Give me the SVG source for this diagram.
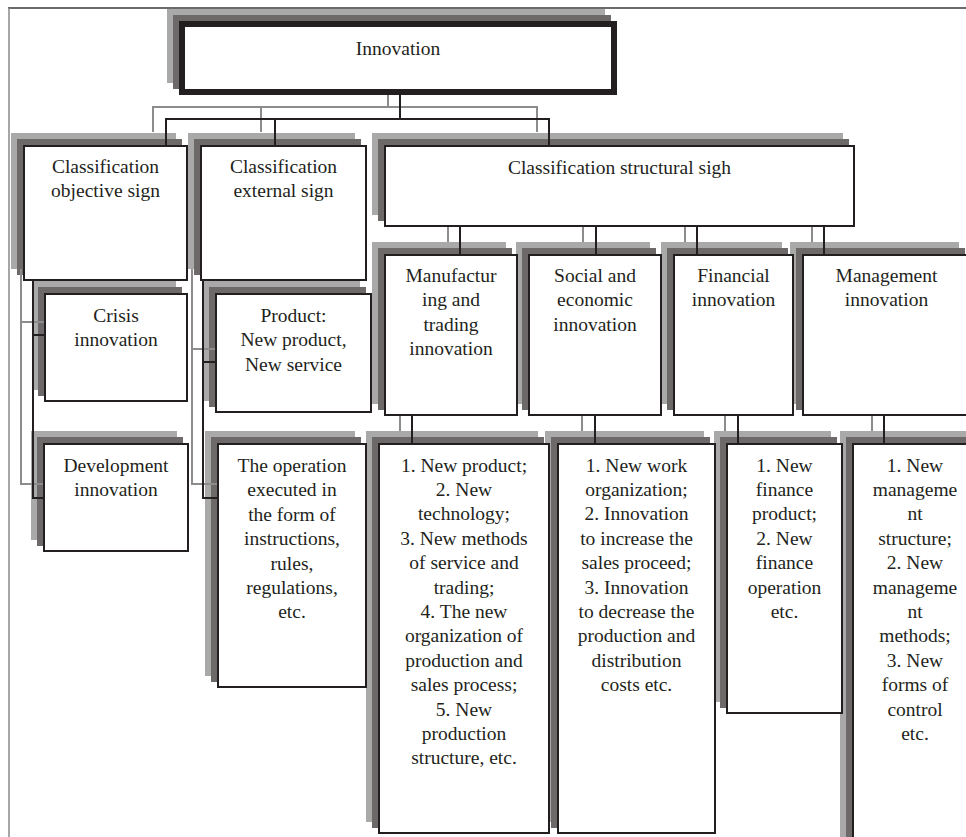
<svg xmlns="http://www.w3.org/2000/svg" width="966" height="837" viewBox="0 0 966 837">
<style>
.bg{fill:#ffffff}
.s1{fill:#a9a9a9}
.s2{fill:#6d6969}
.box{fill:#ffffff;stroke:#231f20;stroke-width:2}
.thick{fill:#ffffff;stroke:#231f20;stroke-width:6}
.t{font-family:'Liberation Serif','DejaVu Serif',serif;font-size:19.5px;fill:#231f20;text-anchor:middle}
.cb{fill:none;stroke:#231f20;stroke-width:2}
.cg{fill:none;stroke:#8c8c8c;stroke-width:2}
</style>
<rect class="bg" x="0" y="0" width="966" height="837"/>
<g id="frame">
<line x1="8" y1="8" x2="966" y2="8" stroke="#3a3a3a" stroke-width="1.5"/>
<line x1="9" y1="8" x2="9" y2="837" stroke="#888888" stroke-width="1.5"/>
</g>

<g id="node-management-list">
<rect class="s1" x="840" y="431" width="126" height="417"/>
<rect class="s2" x="846" y="437" width="126" height="417"/>
<rect class="box" x="853" y="444" width="124" height="415"/>
<text class="t" font-family="Liberation Serif, serif" y="471.5"><tspan x="915">1. New</tspan><tspan x="915" dy="24.4">manageme</tspan><tspan x="915" dy="24.4">nt</tspan><tspan x="915" dy="24.4">structure;</tspan><tspan x="915" dy="24.4">2. New</tspan><tspan x="915" dy="24.4">manageme</tspan><tspan x="915" dy="24.4">nt</tspan><tspan x="915" dy="24.4">methods;</tspan><tspan x="915" dy="24.4">3. New</tspan><tspan x="915" dy="24.4">forms of</tspan><tspan x="915" dy="24.4">control</tspan><tspan x="915" dy="24.4">etc.</tspan></text>
</g>

<g id="node-financial-list">
<rect class="s1" x="714" y="431" width="117" height="271"/>
<rect class="s2" x="720" y="437" width="117" height="271"/>
<rect class="box" x="727" y="444" width="115" height="269"/>
<text class="t" font-family="Liberation Serif, serif" y="471.5"><tspan x="784.5">1. New</tspan><tspan x="784.5" dy="24.4">finance</tspan><tspan x="784.5" dy="24.4">product;</tspan><tspan x="784.5" dy="24.4">2. New</tspan><tspan x="784.5" dy="24.4">finance</tspan><tspan x="784.5" dy="24.4">operation</tspan><tspan x="784.5" dy="24.4">etc.</tspan></text>
</g>

<g id="node-social-list">
<rect class="s1" x="545" y="431" width="159" height="391"/>
<rect class="s2" x="551" y="437" width="159" height="391"/>
<rect class="box" x="558" y="444" width="157" height="389"/>
<text class="t" font-family="Liberation Serif, serif" y="471.5"><tspan x="636.5">1. New work</tspan><tspan x="636.5" dy="24.4">organization;</tspan><tspan x="636.5" dy="24.4">2. Innovation</tspan><tspan x="636.5" dy="24.4">to increase the</tspan><tspan x="636.5" dy="24.4">sales proceed;</tspan><tspan x="636.5" dy="24.4">3. Innovation</tspan><tspan x="636.5" dy="24.4">to decrease the</tspan><tspan x="636.5" dy="24.4">production and</tspan><tspan x="636.5" dy="24.4">distribution</tspan><tspan x="636.5" dy="24.4">costs etc.</tspan></text>
</g>

<g id="node-manufacturing-list">
<rect class="s1" x="366" y="431" width="172" height="391"/>
<rect class="s2" x="372" y="437" width="172" height="391"/>
<rect class="box" x="379" y="444" width="170" height="389"/>
<text class="t" font-family="Liberation Serif, serif" y="471.5"><tspan x="464">1. New product;</tspan><tspan x="464" dy="24.4">2. New</tspan><tspan x="464" dy="24.4">technology;</tspan><tspan x="464" dy="24.4">3. New methods</tspan><tspan x="464" dy="24.4">of service and</tspan><tspan x="464" dy="24.4">trading;</tspan><tspan x="464" dy="24.4">4. The new</tspan><tspan x="464" dy="24.4">organization of</tspan><tspan x="464" dy="24.4">production and</tspan><tspan x="464" dy="24.4">sales process;</tspan><tspan x="464" dy="24.4">5. New</tspan><tspan x="464" dy="24.4">production</tspan><tspan x="464" dy="24.4">structure, etc.</tspan></text>
</g>

<g id="node-management">
<rect class="s1" x="790" y="242" width="169" height="162"/>
<rect class="s2" x="796" y="248" width="169" height="162"/>
<rect class="box" x="803" y="255" width="167" height="160"/>
<text class="t" font-family="Liberation Serif, serif" y="282"><tspan x="886.5">Management</tspan><tspan x="886.5" dy="24.4">innovation</tspan></text>
</g>

<g id="node-financial">
<rect class="s1" x="661" y="242" width="121" height="162"/>
<rect class="s2" x="667" y="248" width="121" height="162"/>
<rect class="box" x="674" y="255" width="119" height="160"/>
<text class="t" font-family="Liberation Serif, serif" y="282"><tspan x="733.5">Financial</tspan><tspan x="733.5" dy="24.4">innovation</tspan></text>
</g>

<g id="node-social">
<rect class="s1" x="516" y="242" width="134" height="162"/>
<rect class="s2" x="522" y="248" width="134" height="162"/>
<rect class="box" x="529" y="255" width="132" height="160"/>
<text class="t" font-family="Liberation Serif, serif" y="282"><tspan x="595">Social and</tspan><tspan x="595" dy="24.4">economic</tspan><tspan x="595" dy="24.4">innovation</tspan></text>
</g>

<g id="node-manufacturing">
<rect class="s1" x="372" y="242" width="134" height="162"/>
<rect class="s2" x="378" y="248" width="134" height="162"/>
<rect class="box" x="385" y="255" width="132" height="160"/>
<text class="t" font-family="Liberation Serif, serif" y="282"><tspan x="451">Manufactur</tspan><tspan x="451" dy="24.4">ing and</tspan><tspan x="451" dy="24.4">trading</tspan><tspan x="451" dy="24.4">innovation</tspan></text>
</g>

<g id="node-structural">
<rect class="s1" x="372" y="133" width="471" height="82"/>
<rect class="s2" x="378" y="139" width="471" height="82"/>
<rect class="box" x="385" y="146" width="469" height="80"/>
<text class="t" font-family="Liberation Serif, serif" x="619.5" y="174">Classification structural sigh</text>
</g>

<g id="node-operation">
<rect class="s1" x="205" y="431" width="150" height="245"/>
<rect class="s2" x="211" y="437" width="150" height="245"/>
<rect class="box" x="218" y="444" width="148" height="243"/>
<text class="t" font-family="Liberation Serif, serif" y="472"><tspan x="292">The operation</tspan><tspan x="292" dy="24.4">executed in</tspan><tspan x="292" dy="24.4">the form of</tspan><tspan x="292" dy="24.4">instructions,</tspan><tspan x="292" dy="24.4">rules,</tspan><tspan x="292" dy="24.4">regulations,</tspan><tspan x="292" dy="24.4">etc.</tspan></text>
</g>

<g id="node-product">
<rect class="s1" x="203" y="281" width="157" height="120"/>
<rect class="s2" x="209" y="287" width="157" height="120"/>
<rect class="box" x="216" y="294" width="155" height="118"/>
<text class="t" font-family="Liberation Serif, serif" y="322"><tspan x="293.5">Product:</tspan><tspan x="293.5" dy="24.4">New product,</tspan><tspan x="293.5" dy="24.4">New service</tspan></text>
</g>

<g id="node-external">
<rect class="s1" x="188" y="133" width="167" height="136"/>
<rect class="s2" x="194" y="139" width="167" height="136"/>
<rect class="box" x="201" y="146" width="165" height="134"/>
<text class="t" font-family="Liberation Serif, serif" y="173"><tspan x="283.5">Classification</tspan><tspan x="283.5" dy="24.4">external sign</tspan></text>
</g>

<g id="node-development">
<rect class="s1" x="31" y="431" width="146" height="109"/>
<rect class="s2" x="37" y="437" width="146" height="109"/>
<rect class="box" x="44" y="444" width="144" height="107"/>
<text class="t" font-family="Liberation Serif, serif" y="472"><tspan x="116">Development</tspan><tspan x="116" dy="24.4">innovation</tspan></text>
</g>

<g id="node-crisis">
<rect class="s1" x="32" y="281" width="144" height="109"/>
<rect class="s2" x="38" y="287" width="144" height="109"/>
<rect class="box" x="45" y="294" width="142" height="107"/>
<text class="t" font-family="Liberation Serif, serif" y="322"><tspan x="116">Crisis</tspan><tspan x="116" dy="24.4">innovation</tspan></text>
</g>

<g id="node-objective">
<rect class="s1" x="11" y="133" width="165" height="136"/>
<rect class="s2" x="17" y="139" width="165" height="136"/>
<rect class="box" x="24" y="146" width="163" height="134"/>
<text class="t" font-family="Liberation Serif, serif" y="173"><tspan x="105.5">Classification</tspan><tspan x="105.5" dy="24.4">objective sign</tspan></text>
</g>

<g id="node-innovation">
<rect class="s1" x="167" y="9" width="438" height="74"/>
<rect class="s2" x="173" y="15" width="438" height="74"/>
<rect class="thick" x="182" y="24" width="432" height="68"/>
<text class="t" font-family="Liberation Serif, serif" x="398" y="55">Innovation</text>
</g>

<g id="connectors">
<path class="cg" d="M388,95 V107 M153,132 V107 H537 V132 M261,107 V132"/>
<path class="cg" d="M448,227 V242 M583,227 V242 M685,227 V242 M812,227 V242"/>
<path class="cg" d="M400,416 V431 M582,416 V431 M725,416 V431 M872,416 V431"/>
<path class="cg" d="M21,269 V484 H43 M21,322 H44"/>
<path class="cg" d="M192,269 V484 H217 M192,349 H215"/>
<path class="cb" d="M400,95 V119 M166,145 V119 H549 V145 M275,119 V145"/>
<path class="cb" d="M460,227 V254 M596,227 V254 M697,227 V254 M824,227 V254"/>
<path class="cb" d="M412,416 V443 M595,416 V443 M738,416 V443 M884,416 V443"/>
<path class="cb" d="M33,281 V498 H43 M33,335 H44"/>
<path class="cb" d="M203,281 V498 H217 M203,362 H215"/>
</g>
</svg>
